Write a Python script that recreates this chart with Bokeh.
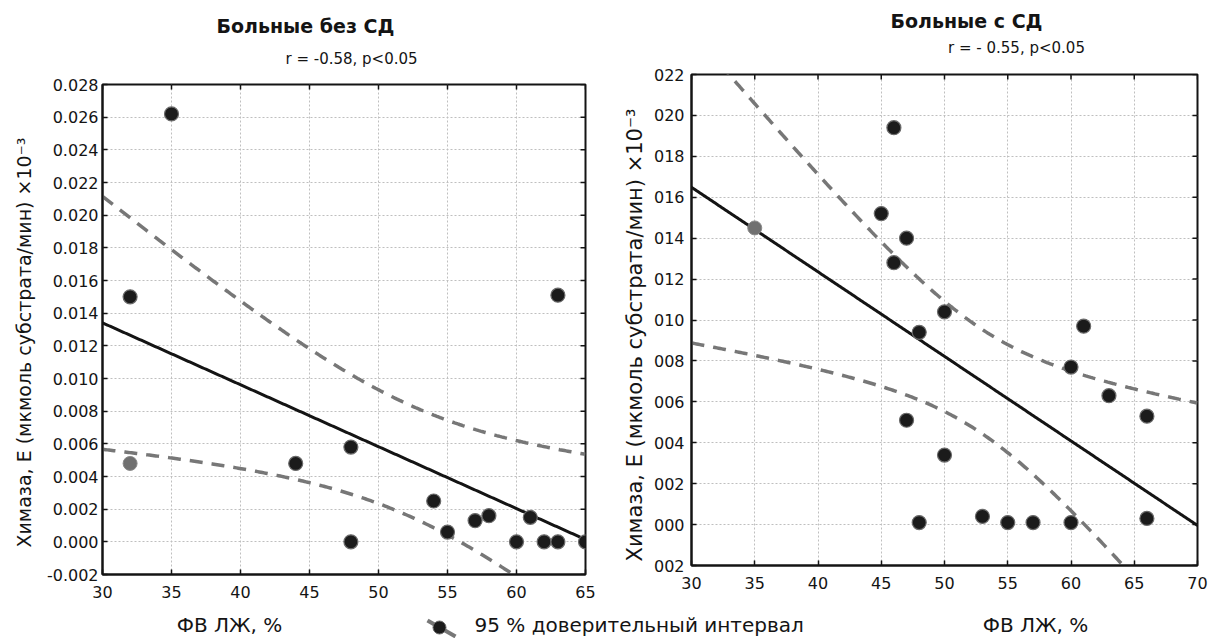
import numpy as np
from bokeh.plotting import figure
from bokeh.models import Range1d, FixedTicker, Label, Title
from bokeh.layouts import column, row
from bokeh.embed import file_html
from bokeh.resources import INLINE

# ---------------- data ----------------
left_x = [35, 32, 44, 48, 48, 54, 55, 57, 58, 60, 61, 62, 63, 63, 65]
left_y = [0.0262, 0.0150, 0.0048, 0.0058, 0.0000, 0.0025, 0.0006, 0.0013,
          0.0016, 0.0000, 0.0015, 0.0000, 0.0000, 0.0151, 0.0000]
left_gray_x = [32]
left_gray_y = [0.0048]

right_x = [46, 45, 47, 46, 50, 48, 61, 60, 63, 66, 47, 50, 48, 53, 55, 57, 60, 66]
right_y = [0.0194, 0.0152, 0.0140, 0.0128, 0.0104, 0.0094, 0.0097, 0.0077,
           0.0063, 0.0053, 0.0051, 0.0034, 0.0001, 0.0004, 0.0001, 0.0001,
           0.0001, 0.0003]
right_gray_x = [35]
right_gray_y = [0.0145]

left_x_ticks = [30, 35, 40, 45, 50, 55, 60, 65]
left_y_ticks = [-0.002, 0.0, 0.002, 0.004, 0.006, 0.008, 0.010, 0.012, 0.014,
                0.016, 0.018, 0.020, 0.022, 0.024, 0.026, 0.028]
left_y_labels = ["-0.002", "0.000", "0.002", "0.004", "0.006", "0.008", "0.010",
                 "0.012", "0.014", "0.016", "0.018", "0.020", "0.022", "0.024",
                 "0.026", "0.028"]
right_x_ticks = [30, 35, 40, 45, 50, 55, 60, 65, 70]
right_y_ticks = [-0.002, 0.0, 0.002, 0.004, 0.006, 0.008, 0.010, 0.012, 0.014,
                 0.016, 0.018, 0.020, 0.022]
right_y_labels = ["002", "000", "002", "004", "006", "008", "010", "012", "014",
                  "016", "018", "020", "022"]

left_title = "Больные без СД"
left_stat = "r = -0.58, p<0.05"
right_title = "Больные с СД"
right_stat = "r = - 0.55, p<0.05"
y_title = "Химаза, Е (мкмоль субстрата/мин) ×10⁻³"
x_title = "ФВ ЛЖ, %"
legend_text = "95 % доверительный интервал"

# Student t 0.975 quantiles for the residual degrees of freedom
T975 = {14: 2.1448, 17: 2.1098}

FONT = "DejaVu Sans"
INK = "#141414"
CI_COLOR = "#777777"
PAGE_W = 1212


def fit_band(xs, ys, x0, x1):
    xs = np.asarray(xs, float)
    ys = np.asarray(ys, float)
    n = len(xs)
    xm, ym = xs.mean(), ys.mean()
    sxx = ((xs - xm) ** 2).sum()
    b = ((xs - xm) * (ys - ym)).sum() / sxx
    a = ym - b * xm
    resid = ys - (a + b * xs)
    s = np.sqrt((resid ** 2).sum() / (n - 2))
    t = T975[n - 2]
    gx = np.linspace(x0, x1, 300)
    gy = a + b * gx
    hw = t * s * np.sqrt(1.0 / n + (gx - xm) ** 2 / sxx)
    return gx, gy, gy - hw, gy + hw


def make_panel(xs, ys, gxs, gys, xr, yr, xticks, yticks, ylabels,
               width, height, borders, ylab_standoff):
    bl, br, bt, bb = borders
    p = figure(width=width, height=height, x_range=Range1d(*xr), y_range=Range1d(*yr),
               toolbar_location=None, output_backend="svg",
               min_border_left=bl, min_border_right=br,
               min_border_top=bt, min_border_bottom=bb)
    p.frame_align = False
    p.background_fill_color = "white"
    p.border_fill_color = "white"
    p.outline_line_color = INK
    p.outline_line_width = 2

    p.xaxis.ticker = FixedTicker(ticks=xticks)
    p.yaxis.ticker = FixedTicker(ticks=yticks)
    p.yaxis.major_label_overrides = {t: l for t, l in zip(yticks, ylabels)}
    for ax in (p.xaxis[0], p.yaxis[0]):
        ax.axis_line_color = INK
        ax.axis_line_width = 2
        ax.major_tick_in = 5
        ax.major_tick_out = 0
        ax.major_tick_line_color = INK
        ax.major_tick_line_width = 1.5
        ax.minor_tick_line_color = None
        ax.major_label_text_font = FONT
        ax.major_label_text_font_size = "16px"
        ax.major_label_text_color = INK
    p.xaxis.major_label_standoff = 11
    p.yaxis.major_label_standoff = ylab_standoff

    p.grid.grid_line_color = "#bfbfbf"
    p.grid.grid_line_dash = "2 2"
    p.grid.grid_line_width = 1

    # inward tick marks on the top and right edges of the frame
    p.scatter(x=xticks, y=[yr[1]] * len(xticks), marker="dash", angle=np.pi / 2,
              size=10, line_color=INK, line_width=1.5)
    p.scatter(x=[xr[1]] * len(yticks), y=yticks, marker="dash",
              size=10, line_color=INK, line_width=1.5)

    gx, gy, lo, hi = fit_band(list(xs) + list(gxs), list(ys) + list(gys), xr[0], xr[1])
    p.line(gx, hi, line_color=CI_COLOR, line_width=3.5, line_dash="13 9")
    p.line(gx, lo, line_color=CI_COLOR, line_width=3.5, line_dash="13 9")
    p.line(gx, gy, line_color=INK, line_width=3)

    p.scatter(x=gxs, y=gys, size=14, fill_color="#707070", line_color="#8a8a8a", line_width=1)
    p.scatter(x=xs, y=ys, size=14, fill_color="#1b1b1b", line_color="#6a6a6a", line_width=1.2)
    return p


def add_title(p, text, side, size, offset, standoff, bold=False):
    p.add_layout(Title(text=text, align="left", offset=offset, standoff=standoff,
                       text_font=FONT, text_font_size=size,
                       text_font_style="bold" if bold else "normal",
                       text_color=INK), side)


def strip_fig(width, height):
    s = figure(width=width, height=height, x_range=Range1d(0, width),
               y_range=Range1d(height, 0), toolbar_location=None, output_backend="svg",
               min_border=0, x_axis_location=None, y_axis_location=None)
    s.frame_align = False
    s.grid.visible = False
    s.outline_line_color = None
    s.background_fill_color = "white"
    s.border_fill_color = "white"
    return s


def strip_text(s, text, x, y, size, align="center", bold=False):
    s.add_layout(Label(x=x, y=y, text=text, text_font=FONT, text_font_size=size,
                       text_font_style="bold" if bold else "normal",
                       text_color=INK, text_align=align, text_baseline="middle"))


ROW_H = 605
BOT_H = 33
TOP1_H = 70
TOP2_H = 60

# left column: title strip (page y 0..70) + panel, frame 102..585 / 84..574
top1 = strip_fig(600, TOP1_H)
strip_text(top1, left_title, 305, 25, "19px", bold=True)
strip_text(top1, left_stat, 351, 58.5, "15px")
p1 = make_panel(left_x, left_y, left_gray_x, left_gray_y, (30, 65), (-0.002, 0.028),
                left_x_ticks, left_y_ticks, left_y_labels,
                600, ROW_H - TOP1_H, (102, 15, 84 - TOP1_H, ROW_H - 574), 4)
add_title(p1, y_title, "left", "19px", 27, 18)

# right column: title strip (page y 0..60) + panel, frame 691..1197 / 74..565
top2 = strip_fig(612, TOP2_H)
strip_text(top2, right_title, 366, 20.5, "19px", bold=True)
strip_text(top2, right_stat, 416, 47.5, "15px")
p2 = make_panel(right_x, right_y, right_gray_x, right_gray_y, (30, 70), (-0.002, 0.022),
                right_x_ticks, right_y_ticks, right_y_labels,
                612, ROW_H - TOP2_H, (91, 15, 74 - TOP2_H, ROW_H - 565), 7)
add_title(p2, y_title, "left", "21px", 4, 7)

# bottom strip: x-axis titles and the legend spanning both panels
bot = strip_fig(PAGE_W, BOT_H)
bot.segment(x0=[427], y0=[15], x1=[455], y1=[31], line_color=CI_COLOR, line_width=4)
bot.scatter(x=[439], y=[22], size=13, fill_color="#1b1b1b", line_color="#6a6a6a")
strip_text(bot, x_title, 229, 19.5, "20px")
strip_text(bot, x_title, 1035, 19.5, "20px")
strip_text(bot, legend_text, 474, 19.5, "20px", align="left")

layout = column(row(column(top1, p1), column(top2, p2)), bot)
open("out.html", "w").write(file_html(layout, INLINE))
